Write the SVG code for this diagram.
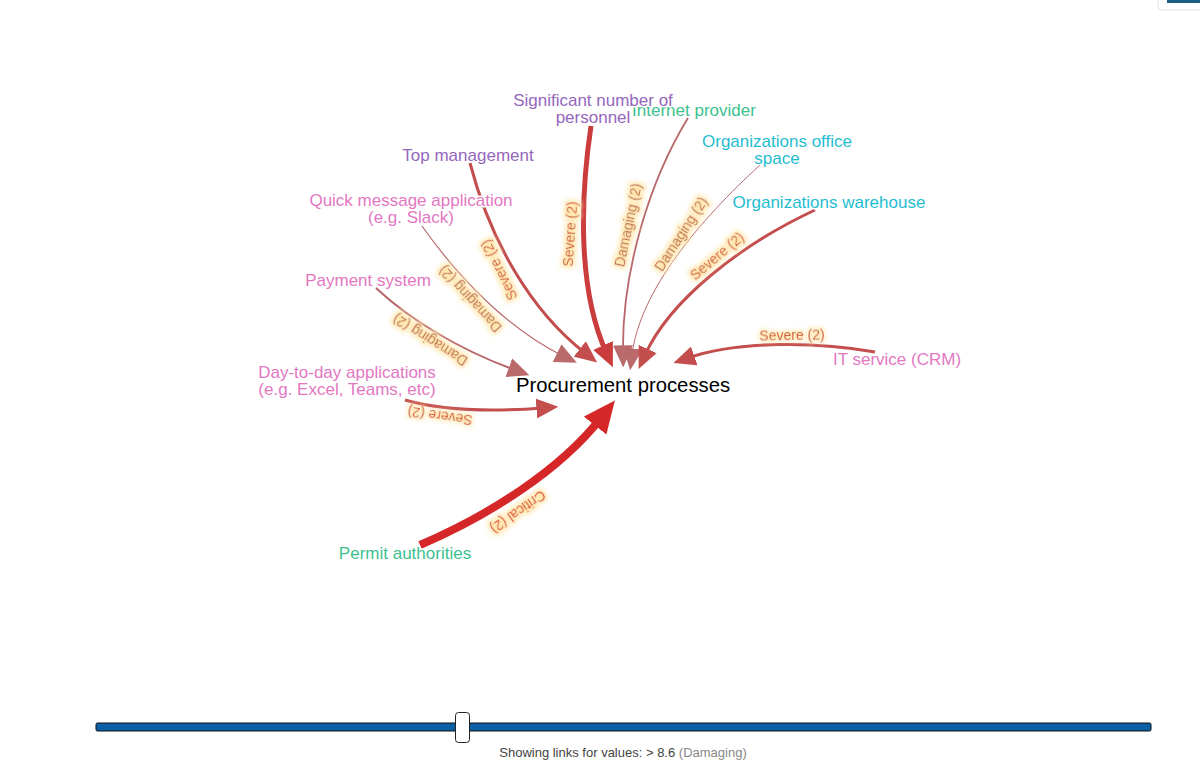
<svg xmlns="http://www.w3.org/2000/svg" width="1200" height="762" viewBox="0 0 1200 762">
<style>
  .node text { font-family: "Liberation Sans", Arial, sans-serif; font-size: 17px; text-anchor: middle; stroke: #fff; stroke-width: 3px; paint-order: stroke; stroke-linejoin: round; }
  .purple { fill: #9467bd; }
  .green { fill: #3cc28e; }
  .cyan { fill: #1fbdd0; }
  .pink { fill: #e377c2; }
  .edge { fill: none; }
  .sev { stroke: #c44e4e; }
  .dam { stroke: #b8676a; }
  .crit { stroke: #d62728; }
  .lbl { font-family: "Liberation Sans", Arial, sans-serif; font-size: 14px; text-anchor: middle; dominant-baseline: central; filter: url(#glow); }
  .lsev { fill: #d3533d; }
  .ldam { fill: #bf6550; }
  .lcrit { fill: #e0281e; }
</style>
<defs>
  <filter id="glow" x="-30%" y="-80%" width="160%" height="260%">
    <feMorphology in="SourceAlpha" operator="dilate" radius="1.5" result="d"/>
    <feGaussianBlur in="d" stdDeviation="2.5" result="b"/>
    <feFlood flood-color="#ffe6aa"/>
    <feComposite in2="b" operator="in" result="g"/>
    <feMerge><feMergeNode in="g"/><feMergeNode in="SourceGraphic"/></feMerge>
  </filter>
  <marker id="aSev" viewBox="0 0 20 18" markerUnits="userSpaceOnUse" markerWidth="22" markerHeight="20" refX="6" refY="9" orient="auto"><path d="M0,0 L20,9 L0,18 z" fill="#c44e4e"/></marker>
  <marker id="aSevB" viewBox="0 0 20 18" markerUnits="userSpaceOnUse" markerWidth="24" markerHeight="22" refX="6" refY="9" orient="auto"><path d="M0,0 L20,9 L0,18 z" fill="#cb3d3d"/></marker>
  <marker id="aDam" viewBox="0 0 20 18" markerUnits="userSpaceOnUse" markerWidth="22" markerHeight="20" refX="6" refY="9" orient="auto"><path d="M0,0 L20,9 L0,18 z" fill="#bb6a6c"/></marker>
  <marker id="aCrit" viewBox="0 0 20 18" markerUnits="userSpaceOnUse" markerWidth="32" markerHeight="30" refX="6" refY="9" orient="auto"><path d="M0,0 L20,9 L0,18 z" fill="#d62728"/></marker>
</defs>
<rect width="1200" height="762" fill="#fff"/>
<g id="topright">
  <rect x="1158" y="-10" width="60" height="20" rx="4" fill="#fff" stroke="#e2e2e2"/>
  <rect x="1167" y="0" width="33" height="3" fill="#1b5e86"/>
</g>
<g id="connectors">
  <path class="edge sev" stroke-width="5" style="stroke:#cb3d3d" d="M591,126 C580,200 578,290 606,352" marker-end="url(#aSevB)"/>
  <path class="edge dam" stroke-width="1.8" d="M688,118 C650,180 622,270 623,352" marker-end="url(#aDam)"/>
  <path class="edge dam" stroke-width="1" d="M760,165 C700,220 640,290 632,355" marker-end="url(#aDam)"/>
  <path class="edge sev" stroke-width="3" d="M815,210 C740,245 670,300 645,355" marker-end="url(#aSev)"/>
  <path class="edge sev" stroke-width="3" d="M875,352 C820,342 740,340 688,358" marker-end="url(#aSev)"/>
  <path class="edge sev" stroke-width="3" d="M470,163 C490,240 530,310 585,353" marker-end="url(#aSev)"/>
  <path class="edge dam" stroke-width="1.2" d="M422,226 C460,280 510,330 563,356" marker-end="url(#aDam)"/>
  <path class="edge dam" stroke-width="2" d="M376,288 C410,320 460,350 515,370" marker-end="url(#aDam)"/>
  <path class="edge sev" stroke-width="3" d="M405,400 C440,410 490,412 543,408" marker-end="url(#aSev)"/>
  <path class="edge crit" stroke-width="8" d="M420,545 C490,515 560,470 601,418" marker-end="url(#aCrit)"/>
  <text class="lbl lsev" transform="translate(570,234) rotate(-86)">Severe (2)</text>
  <text class="lbl ldam" transform="translate(628,225) rotate(-78)">Damaging (2)</text>
  <text class="lbl ldam" transform="translate(681,234) rotate(-57)">Damaging (2)</text>
  <text class="lbl lsev" transform="translate(717,256) rotate(-40)">Severe (2)</text>
  <text class="lbl lsev" transform="translate(792,335) rotate(-1)">Severe (2)</text>
  <text class="lbl lsev" transform="translate(499,270) rotate(244)">Severe (2)</text>
  <text class="lbl ldam" transform="translate(470,299) rotate(-133)">Damaging (2)</text>
  <text class="lbl ldam" transform="translate(430,340) rotate(-148)">Damaging (2)</text>
  <text class="lbl lsev" transform="translate(440,416) rotate(188)">Severe (2)</text>
  <text class="lbl lcrit" transform="translate(518,512) rotate(145)">Critical (2)</text>
</g>
<g id="node-internet" class="node"><text class="green" x="694" y="116">Internet provider</text></g>
<g id="node-personnel" class="node"><text class="purple" x="593" y="106">Significant number of</text><text class="purple" x="593" y="123">personnel</text></g>
<g id="node-office" class="node"><text class="cyan" x="777" y="147">Organizations office</text><text class="cyan" x="777" y="164">space</text></g>
<g id="node-warehouse" class="node"><text class="cyan" x="829" y="208">Organizations warehouse</text></g>
<g id="node-topmgmt" class="node"><text class="purple" x="468" y="161">Top management</text></g>
<g id="node-quickmsg" class="node"><text class="pink" x="411" y="206">Quick message application</text><text class="pink" x="411" y="223">(e.g. Slack)</text></g>
<g id="node-payment" class="node"><text class="pink" x="368" y="286">Payment system</text></g>
<g id="node-daytoday" class="node"><text class="pink" x="347" y="378">Day-to-day applications</text><text class="pink" x="347" y="395">(e.g. Excel, Teams, etc)</text></g>
<g id="node-it" class="node"><text class="pink" x="897" y="365">IT service (CRM)</text></g>
<g id="node-permit" class="node"><text class="green" x="405" y="559">Permit authorities</text></g>
<g id="node-procurement" class="node"><text x="623" y="392" style="fill:#000;font-size:20.3px">Procurement processes</text></g>
<g id="slider">
  <rect x="96" y="723" width="1055" height="8" rx="1.5" fill="#0b5fa5" stroke="#111" stroke-width="1"/>
  <rect x="455.5" y="712.5" width="14" height="30" rx="3" fill="#fff" stroke="#222" stroke-width="1"/>
  <text x="623" y="757" text-anchor="middle" style="font-family:'Liberation Sans',Arial,sans-serif;font-size:13px"><tspan fill="#444">Showing links for values: &gt; 8.6 </tspan><tspan fill="#888">(Damaging)</tspan></text>
</g>
</svg>
